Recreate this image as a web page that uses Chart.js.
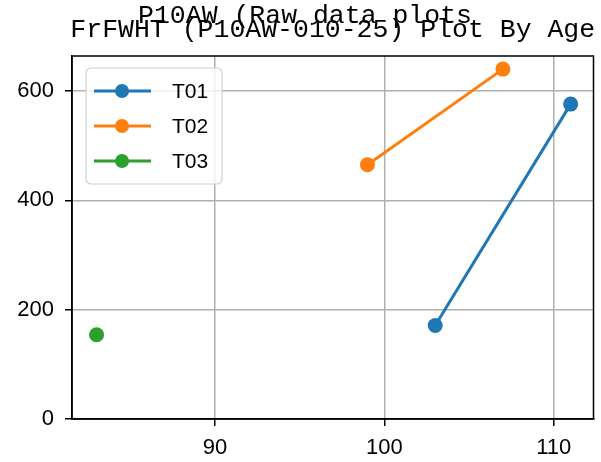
<!DOCTYPE html>
<html><head><meta charset="utf-8">
<script src="https://cdn.jsdelivr.net/npm/chart.js@4"></script>
<style>html,body{margin:0;padding:0;background:#fff}#w{width:601px;height:462px}</style>
</head><body><div id="w"><canvas id="c"></canvas></div>
<script>
const seriesNames = ["T01", "T02", "T03"];
const seriesColors = ["#1f77b4", "#ff7f0e", "#2ca02c"];
const t01Age = [103, 111];
const t01Val = [171, 576];
const t02Age = [99, 107];
const t02Val = [465, 640];
const t03Age = [83];
const t03Val = [154];
const xTicks = [90, 100, 110];
const yTicks = [0, 200, 400, 600];
const titleTop = "P10AW (Raw data plots";
const titleMain = "FrFWHT (P10AW-010-25) Plot By Age";

const TFONT = '"Liberation Mono", "DejaVu Sans Mono", monospace';
const FONT = '"Liberation Sans", Arial, sans-serif';
const toPts = (xs, ys) => xs.map((x, i) => ({x, y: ys[i]}));
const series = [toPts(t01Age, t01Val), toPts(t02Age, t02Val), toPts(t03Age, t03Val)];

const extras = {
  id: 'extras',
  afterDraw(chart) {
    const ctx = chart.ctx, a = chart.chartArea;
    ctx.save();
    ctx.strokeStyle = '#000'; ctx.lineWidth = 1.5;
    ctx.strokeRect(a.left, a.top, a.right - a.left, a.bottom - a.top);
    ctx.fillStyle = '#000';
    ctx.font = '26.5px ' + TFONT;
    ctx.textAlign = 'center'; ctx.textBaseline = 'alphabetic';
    ctx.fillText(titleMain, (a.left + a.right) / 2, 37);
    ctx.fillText(titleTop, 305, 23);
    const bx = 86, by = 68, bw = 136, bh = 116, r = 5;
    ctx.beginPath();
    ctx.moveTo(bx + r, by); ctx.lineTo(bx + bw - r, by); ctx.arcTo(bx + bw, by, bx + bw, by + r, r);
    ctx.lineTo(bx + bw, by + bh - r); ctx.arcTo(bx + bw, by + bh, bx + bw - r, by + bh, r);
    ctx.lineTo(bx + r, by + bh); ctx.arcTo(bx, by + bh, bx, by + bh - r, r);
    ctx.lineTo(bx, by + r); ctx.arcTo(bx, by, bx + r, by, r); ctx.closePath();
    ctx.fillStyle = 'rgba(255,255,255,0.8)'; ctx.fill();
    ctx.strokeStyle = '#d0d0d0'; ctx.lineWidth = 1.2; ctx.stroke();
    ctx.font = '21px ' + FONT; ctx.textAlign = 'left'; ctx.textBaseline = 'middle';
    chart.data.datasets.forEach((ds, i) => {
      const y = 91 + i * 35;
      ctx.strokeStyle = ds.borderColor; ctx.lineWidth = 3;
      ctx.beginPath(); ctx.moveTo(94, y); ctx.lineTo(151, y); ctx.stroke();
      ctx.fillStyle = ds.borderColor;
      ctx.beginPath(); ctx.arc(122, y, 7, 0, Math.PI * 2); ctx.fill();
      ctx.fillStyle = '#000';
      ctx.fillText(ds.label, 172, y + 1);
    });
    ctx.restore();
  }
};

new Chart(document.getElementById('c'), {
  type: 'line',
  data: {
    datasets: series.map((d, i) => ({
      label: seriesNames[i], data: d,
      borderColor: seriesColors[i], backgroundColor: seriesColors[i],
      borderWidth: 3, pointRadius: 7.5, pointHoverRadius: 7.5,
      pointBorderWidth: 0, fill: false, tension: 0
    }))
  },
  options: {
    responsive: true, maintainAspectRatio: false, animation: false,
    events: [],
    layout: {padding: {top: 56, right: 4, left: 0, bottom: 0}},
    plugins: {legend: {display: false}, title: {display: false}, tooltip: {enabled: false}},
    scales: {
      x: {
        type: 'linear', min: 81.55, max: 112.35,
        afterBuildTicks: s => { s.ticks = xTicks.map(v => ({value: v})); },
        afterFit: s => { s.height = 43; },
        grid: {color: '#b0b0b0', lineWidth: 1.5, tickLength: 7, tickColor: '#000', drawOnChartArea: true},
        border: {color: '#000', width: 1.5},
        ticks: {color: '#000', font: {family: FONT, size: 22}, padding: 9, maxRotation: 0}
      },
      y: {
        type: 'linear', min: 0, max: 664,
        afterBuildTicks: s => { s.ticks = yTicks.map(v => ({value: v})); },
        afterFit: s => { s.width = 72; },
        grid: {color: '#b0b0b0', lineWidth: 1.5, tickLength: 7, tickColor: '#000'},
        border: {color: '#000', width: 1.5},
        ticks: {color: '#000', font: {family: FONT, size: 22}, padding: 11}
      }
    }
  },
  plugins: [extras]
});
</script></body></html>
